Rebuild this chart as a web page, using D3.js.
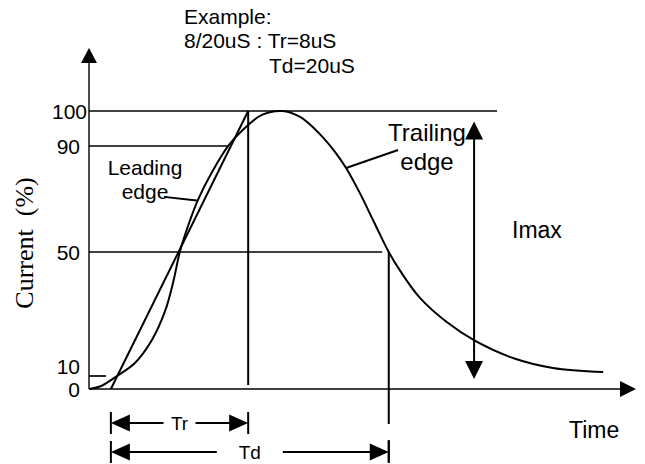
<!DOCTYPE html>
<html>
<head>
<meta charset="utf-8">
<script src="https://cdn.jsdelivr.net/npm/d3@7"></script>
<style>
  body { margin: 0; background: #fff; }
  svg { display: block; }
  text { font-family: "Liberation Sans", Arial, sans-serif; fill: #000; }
</style>
</head>
<body>
<div id="chart"></div>
<script>
// impulse current waveform (time in arbitrary units, current in % of peak)
const curveT = [0, 2.0, 5.1, 8.4, 11.5, 13.9, 15.4, 16.6, 18.1, 19.9, 22.5, 25.6, 29.1, 31.6, 35.3,
                38.6, 42.2, 45.0, 47.0, 49.5, 52.1, 54.8, 56.9, 60.5, 65.4, 70.6, 77.5, 84.8, 94];
const curveI = [0, 1.9, 10, 14.2, 21.6, 30.9, 40.3, 50, 59.8, 69.6, 80.2, 90.3, 96, 98.9, 100,
                98.3, 93.4, 87.7, 81.7, 72.3, 61.3, 50, 43.9, 35.2, 27.4, 21.3, 15.8, 12.6, 11.3];

// y levels and where their horizontal guide ends
const levels = [0, 10, 50, 90, 100];
const levelLabels = ["0", "10", "50", "90", "100"];
const levelEnds = [null, 3.1, 53.6, 25.6, 74.6];

// virtual origin, end of front (Tr) and time to half value (Td)
const frontStart = 4.0, frontEnd = 29.1, tailEnd = 54.8;
const frontLineBottom = 3;
const imaxT = 70.4, imaxRange = [97, 7.7];

// leader lines [t, %]
const leadLeader = [[13.7, 70.8], [19.7, 69.4]];
const trailLeader = [[47.0, 81.7], [56.5, 88.5]];

const width = 645, height = 464;
const svg = d3.select("#chart").append("svg")
    .attr("width", width)
    .attr("height", height);

const x = d3.scaleLinear().domain([0, 100]).range([89, 636]);
const y = d3.scaleLinear().domain(levels).range([389, 376, 252, 146, 111]);

const y0 = y(0), x0 = x(0);

function arrow(tx, ty, dir, len, half) {
    let pts;
    if (dir === "up") pts = [[tx, ty], [tx - half, ty + len], [tx + half, ty + len]];
    if (dir === "down") pts = [[tx, ty], [tx - half, ty - len], [tx + half, ty - len]];
    if (dir === "left") pts = [[tx, ty], [tx + len, ty - half], [tx + len, ty + half]];
    if (dir === "right") pts = [[tx, ty], [tx - len, ty - half], [tx - len, ty + half]];
    svg.append("polygon").attr("points", pts.map(p => p.join(",")).join(" ")).attr("fill", "#000");
}
function seg(x1, y1, x2, y2, w) {
    svg.append("line")
        .attr("x1", x1).attr("y1", y1).attr("x2", x2).attr("y2", y2)
        .attr("stroke", "#000").attr("stroke-width", w || 2);
}

// axes
seg(x0, y0, x0, 62, 1.4);
arrow(x0, 48, "up", 15, 8);
seg(x0, y0, x(100) - 16, y0, 1.4);
arrow(x(100), y0, "right", 16, 8);

// y tick labels
const yAxis = svg.append("g")
    .attr("transform", `translate(${x0},0)`)
    .call(d3.axisLeft(y).tickValues(levels).tickFormat((d, i) => levelLabels[i]).tickSize(0).tickPadding(8));
yAxis.select(".domain").remove();
yAxis.selectAll("text")
    .attr("font-size", 21)
    .attr("font-family", "Liberation Sans, Arial, sans-serif")
    .attr("dy", d => d === 10 ? "-0.1em" : "0.35em")
    .attr("x", d => d === 100 ? -2 : -9);

// level guides
levels.forEach((v, i) => {
    if (levelEnds[i] === null) return;
    seg(x0, y(v), x(levelEnds[i]), y(v), 1.7);
});

// straight line through 10% and 90% points
seg(x(frontStart), y(0), x(frontEnd), y(100), 2);
// vertical at Tr end
seg(x(frontEnd), y(100), x(frontEnd), y(frontLineBottom), 2);
// vertical at Td
seg(x(tailEnd), y(50), x(tailEnd), y0 + 35, 2);

// waveform
const line = d3.line()
    .x(d => x(d[0]))
    .y(d => y(d[1]))
    .curve(d3.curveCatmullRom.alpha(0.5));
svg.append("path")
    .datum(d3.zip(curveT, curveI))
    .attr("d", line)
    .attr("fill", "none")
    .attr("stroke", "#000")
    .attr("stroke-width", 2);

// Imax double arrow
seg(x(imaxT), y(imaxRange[0]) + 17, x(imaxT), y(imaxRange[1]) - 17, 2);
arrow(x(imaxT), y(imaxRange[0]), "up", 18, 9);
arrow(x(imaxT), y(imaxRange[1]), "down", 18, 9);

// Tr / Td dimension arrows
function dimension(t1, t2, rowY, label, gap) {
    const a = x(t1), b = x(t2), mid = (a + b) / 2;
    seg(a, rowY - 11, a, rowY + 11, 2);
    seg(b, rowY - 11, b, rowY + 11, 2);
    arrow(a, rowY, "left", 19, 8.5);
    arrow(b, rowY, "right", 19, 8.5);
    seg(a + 18, rowY, mid - gap, rowY, 2);
    seg(mid + gap, rowY, b - 18, rowY, 2);
    svg.append("text").attr("x", mid).attr("y", rowY + 7)
        .attr("text-anchor", "middle").attr("font-size", 19).text(label);
}
dimension(frontStart, frontEnd, y0 + 34, "Tr", 16);
dimension(frontStart, tailEnd, y0 + 63, "Td", 33);
// Td tick extending the vertical
seg(x(tailEnd), y0 + 51, x(tailEnd), y0 + 73, 2);

// leaders
seg(x(leadLeader[0][0]), y(leadLeader[0][1]), x(leadLeader[1][0]), y(leadLeader[1][1]), 2);
seg(x(trailLeader[0][0]), y(trailLeader[0][1]), x(trailLeader[1][0]), y(trailLeader[1][1]), 2);

// texts
function label(tx, ty, str, size, anchor) {
    svg.append("text").attr("x", tx).attr("y", ty)
        .attr("font-size", size).attr("text-anchor", anchor || "start").text(str);
}
label(184, 24, "Example:", 21);
label(184, 48, "8/20uS : Tr=8uS", 21);
label(269, 73, "Td=20uS", 21);
label(145, 175, "Leading", 21, "middle");
label(145, 199, "edge", 21, "middle");
label(427, 141, "Trailing", 24, "middle");
label(427, 170, "edge", 24, "middle");
label(512, 238, "Imax", 23);
label(569, 438, "Time", 23);

svg.append("text")
    .attr("transform", "translate(33,243) rotate(-90)")
    .attr("text-anchor", "middle")
    .style("font-family", "'Liberation Serif', 'Times New Roman', serif")
    .style("white-space", "pre")
    .attr("font-size", 26)
    .text("Current  (%)");
</script>
</body>
</html>
